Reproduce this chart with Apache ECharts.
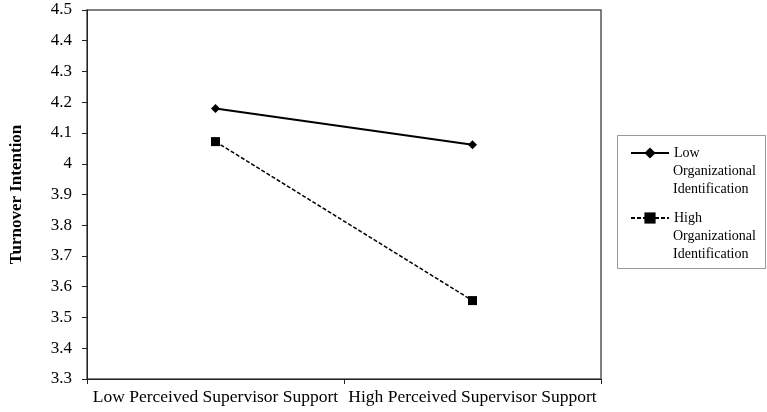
<!DOCTYPE html>
<html><head><meta charset="utf-8">
<script src="https://cdn.jsdelivr.net/npm/echarts@6/dist/echarts.min.js"></script>
<style>html,body{margin:0;padding:0;background:#fff}#c{width:767px;height:412px}</style>
</head><body><div id="c"></div>
<script>
var categories = ['Low Perceived Supervisor Support', 'High Perceived Supervisor Support'];
var lowOI = [4.18, 4.062];
var highOI = [4.072, 3.555];
var seriesNames = ['Low Organizational Identification', 'High Organizational Identification'];
var yMin = 3.3, yMax = 4.5, yStep = 0.1;

var serif = '"Liberation Serif", "DejaVu Serif", serif';
var chart = echarts.init(document.getElementById('c'));
chart.setOption({
  animation: false,
  backgroundColor: '#fff',
  textStyle: {fontFamily: serif},
  grid: {left: 83, right: 166, top: 10, bottom: 33, show: true, borderColor: '#555', borderWidth: 1.5},
  xAxis: {
    type: 'category', data: categories, boundaryGap: true,
    axisLine: {lineStyle: {color: '#222', width: 1}},
    axisTick: {show: true, length: 5, alignWithLabel: false, lineStyle: {color: '#222'}},
    axisLabel: {color: '#000', fontSize: 17.5, fontFamily: serif, margin: 9, interval: 0}
  },
  yAxis: {
    type: 'value', min: yMin, max: yMax, interval: yStep,
    name: 'Turnover Intention', nameLocation: 'middle', nameGap: 62, nameRotate: 90,
    nameTextStyle: {color: '#000', fontSize: 17, fontWeight: 'bold', fontFamily: serif},
    axisLine: {show: true, lineStyle: {color: '#222', width: 1}},
    axisTick: {show: true, length: 5, lineStyle: {color: '#222'}},
    splitLine: {show: false},
    axisLabel: {color: '#000', fontSize: 17, fontFamily: serif, margin: 15,
      formatter: function (v) { return String(Math.round(v * 10) / 10); }}
  },
  legend: {
    orient: 'vertical', left: 630, top: 146, z: 5,
    padding: 0, itemGap: 51,
    itemWidth: 38, itemHeight: 14,
    data: seriesNames,
    formatter: function (n) { return n.split(' ')[0]; },
    textStyle: {color: '#000', fontSize: 14, fontFamily: serif}
  },
  graphic: [
    {type: 'rect', z: 0, shape: {x: 617.5, y: 135.5, width: 148, height: 133}, style: {fill: '#fff', stroke: '#999', lineWidth: 1}},
    {type: 'text', z: 10, left: 673, top: 162, style: {text: 'Organizational\nIdentification', fill: '#000', font: '14px ' + serif, lineHeight: 18}},
    {type: 'text', z: 10, left: 673, top: 227, style: {text: 'Organizational\nIdentification', fill: '#000', font: '14px ' + serif, lineHeight: 18}}
  ],
  series: [
    {name: seriesNames[0], type: 'line', data: lowOI, symbol: 'diamond', symbolSize: 9,
     lineStyle: {color: '#000', width: 2}, itemStyle: {color: '#000'}},
    {name: seriesNames[1], type: 'line', data: highOI, symbol: 'rect', symbolSize: 9,
     lineStyle: {color: '#000', width: 1.5, type: [4, 2]}, itemStyle: {color: '#000'}}
  ]
});
</script></body></html>
